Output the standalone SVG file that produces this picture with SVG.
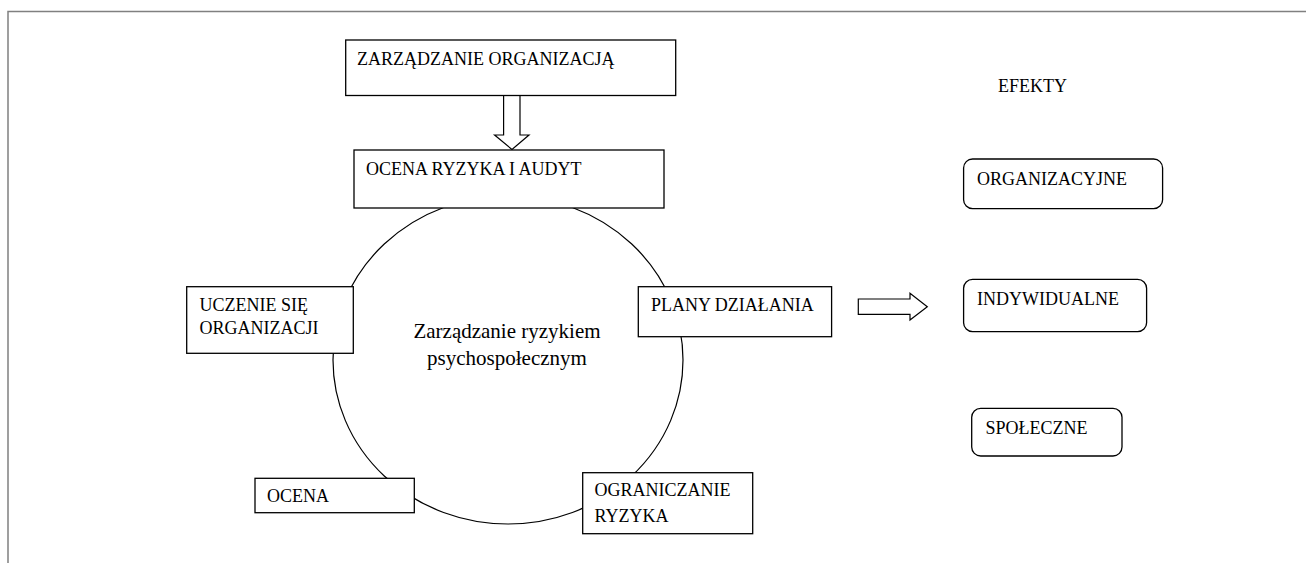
<svg xmlns="http://www.w3.org/2000/svg" width="1306" height="563" viewBox="0 0 1306 563" font-family="Liberation Serif, serif">
<style>
.box{fill:#fff;stroke:#000;stroke-width:1.3}
.rbox{fill:#fff;stroke:#000;stroke-width:1.3}
.t{font-size:18px;fill:#000}
.c{font-size:21px;fill:#000;text-anchor:middle}
.frame{fill:none;stroke:#808080;stroke-width:1.5}
.cyc{fill:none;stroke:#000;stroke-width:1.2}
.barrow{fill:#fff;stroke:#000;stroke-width:1.2}
</style>
<polyline class="frame" points="8,563 8,11.5 1306,11.5"/>
<g id="connectors">
<ellipse class="cyc" cx="508" cy="360" rx="175" ry="164"/>
<polygon class="barrow" points="503.6,95.5 520,95.5 520,135 529,135 512,149.5 494.6,135 503.6,135"/>
<polygon class="barrow" points="858.3,299 910,299 910,293.3 927.3,306.7 910,320 910,314.3 858.3,314.3"/>
</g>
<g id="n-zarzadzanie-org">
<rect class="box" x="345.7" y="40" width="330" height="55.5"/>
<text class="t" x="357" y="64.5" font-family="Liberation Serif">ZARZĄDZANIE ORGANIZACJĄ</text>
</g>
<g id="n-ocena-ryzyka">
<rect class="box" x="354" y="150" width="310" height="58"/>
<text class="t" x="366" y="174.5" font-family="Liberation Serif">OCENA RYZYKA I AUDYT</text>
</g>
<g id="n-uczenie">
<rect class="box" x="186.7" y="286.7" width="166.6" height="66.6"/>
<text class="t" x="199.5" y="311" font-family="Liberation Serif">UCZENIE SIĘ</text>
<text class="t" x="199.5" y="334" font-family="Liberation Serif">ORGANIZACJI</text>
</g>
<g id="n-center">
<text class="c" x="507" y="338" font-family="Liberation Serif">Zarządzanie ryzykiem</text>
<text class="c" x="507" y="365" font-family="Liberation Serif">psychospołecznym</text>
</g>
<g id="n-plany">
<rect class="box" x="638.3" y="286.7" width="193.3" height="50"/>
<text class="t" x="651" y="311" font-family="Liberation Serif">PLANY DZIAŁANIA</text>
</g>
<g id="n-ocena">
<rect class="box" x="255" y="478.3" width="159.3" height="34.4"/>
<text class="t" x="267" y="502" font-family="Liberation Serif">OCENA</text>
</g>
<g id="n-ograniczanie">
<rect class="box" x="582.7" y="472.7" width="170" height="61"/>
<text class="t" x="594.5" y="496" font-family="Liberation Serif">OGRANICZANIE</text>
<text class="t" x="594.5" y="521.5" font-family="Liberation Serif">RYZYKA</text>
</g>
<g id="n-efekty">
<text class="t" x="998" y="91.5" font-family="Liberation Serif">EFEKTY</text>
</g>
<g id="n-organizacyjne">
<rect class="rbox" x="963.6" y="159" width="199" height="49.7" rx="9" ry="9"/>
<text class="t" x="977" y="185" font-family="Liberation Serif">ORGANIZACYJNE</text>
</g>
<g id="n-indywidualne">
<rect class="rbox" x="963.6" y="279.3" width="183" height="52.4" rx="9" ry="9"/>
<text class="t" x="977" y="305" font-family="Liberation Serif">INDYWIDUALNE</text>
</g>
<g id="n-spoleczne">
<rect class="rbox" x="971.7" y="408.3" width="150.3" height="47.7" rx="9" ry="9"/>
<text class="t" x="985.5" y="434" font-family="Liberation Serif">SPOŁECZNE</text>
</g>
</svg>
